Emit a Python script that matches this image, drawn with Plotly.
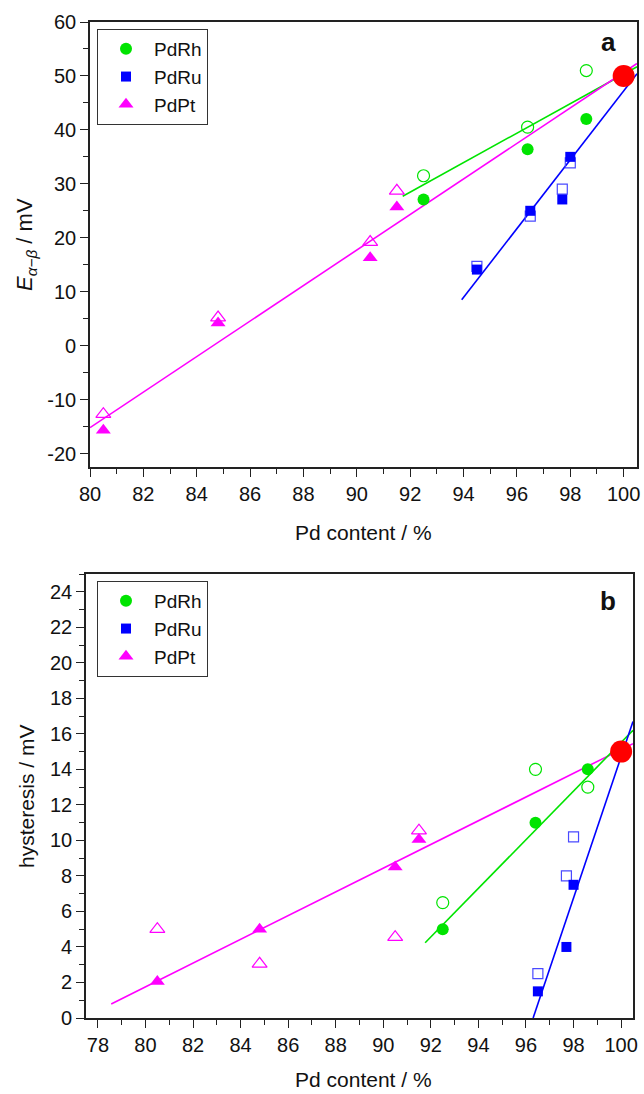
import plotly.graph_objects as go

W, H = 644, 1094
GREEN = "#00e400"
BLUE = "#0000ff"
MAG = "#ff00ff"
RED = "#ff0000"

# ---------------- panel a: E_alpha-beta ----------------
a_rh_x = [92.5, 96.4, 98.6]
a_rh_fill = [27.1, 36.4, 42.0]
a_rh_open = [31.5, 40.5, 51.0]
a_ru_x = [94.5, 96.5, 97.7, 98.0]
a_ru_fill = [14.1, 25.0, 27.1, 35.0]
a_ru_open = [14.7, 24.0, 29.0, 33.9]
a_pt_x = [80.5, 84.8, 90.5, 91.5]
a_pt_fill = [-15.7, 4.2, 16.3, 25.7]
a_pt_open = [-12.7, 5.2, 19.2, 28.7]
a_pd_x = [100.0]
a_pd_y = [50.0]
# fit lines (endpoints)
a_fit_rh_x = [91.72, 100.5]
a_fit_rh_y = [27.7, 51.7]
a_fit_ru_x = [93.93, 100.5]
a_fit_ru_y = [8.5, 50.4]
a_fit_pt_x = [80.0, 100.5]
a_fit_pt_y = [-15.2, 52.3]
a_y_ticks = [-20, -10, 0, 10, 20, 30, 40, 50, 60]
a_y_labels = ["-20", "-10", "0", "10", "20", "30", "40", "50", "60"]

# ---------------- panel b: hysteresis ----------------
b_rh_x = [92.5, 96.4, 98.6]
b_rh_fill = [5.0, 11.0, 14.0]
b_rh_open = [6.5, 14.0, 13.0]
b_ru_x = [96.5, 97.7, 98.0]
b_ru_fill = [1.5, 4.0, 7.5]
b_ru_open = [2.5, 8.0, 10.2]
b_pt_x = [80.5, 84.8, 90.5, 91.5]
b_pt_fill = [2.05, 5.0, 8.5, 10.05]
b_pt_open = [5.0, 3.05, 4.55, 10.55]
b_pd_x = [100.0]
b_pd_y = [15.0]
b_fit_rh_x = [91.76, 100.5]
b_fit_rh_y = [4.24, 16.2]
b_fit_ru_x = [96.3, 100.5]
b_fit_ru_y = [0.0, 16.7]
b_fit_pt_x = [78.56, 100.5]
b_fit_pt_y = [0.79, 15.45]

FONT = "Liberation Sans, Arial, sans-serif"

fig = go.Figure()


def add_panel(xa, ya, leg, rh_x, rh_f, rh_o, ru_x, ru_f, ru_o, pt_x, pt_f, pt_o,
              pd_x, pd_y, fits):
    for fx, fy, col in fits:
        fig.add_trace(go.Scatter(x=fx, y=fy, mode="lines", line=dict(color=col, width=1.6),
                                 showlegend=False, xaxis=xa, yaxis=ya, hoverinfo="skip"))
    # open markers
    fig.add_trace(go.Scatter(x=rh_x, y=rh_o, mode="markers", showlegend=False, xaxis=xa, yaxis=ya,
                             marker=dict(symbol="circle-open", size=12, color=GREEN, line=dict(width=1.2))))
    fig.add_trace(go.Scatter(x=ru_x, y=ru_o, mode="markers", showlegend=False, xaxis=xa, yaxis=ya,
                             marker=dict(symbol="square-open", size=10, color="#4a4aff", line=dict(width=1.2))))
    fig.add_trace(go.Scatter(x=pt_x, y=pt_o, mode="markers", showlegend=False, xaxis=xa, yaxis=ya,
                             marker=dict(symbol="triangle-up-open", size=13, color=MAG, line=dict(width=1.2))))
    # filled markers
    fig.add_trace(go.Scatter(x=rh_x, y=rh_f, mode="markers", name="PdRh", legend=leg, xaxis=xa, yaxis=ya,
                             marker=dict(symbol="circle", size=12, color=GREEN)))
    fig.add_trace(go.Scatter(x=ru_x, y=ru_f, mode="markers", name="PdRu", legend=leg, xaxis=xa, yaxis=ya,
                             marker=dict(symbol="square", size=10, color=BLUE)))
    fig.add_trace(go.Scatter(x=pt_x, y=pt_f, mode="markers", name="PdPt", legend=leg, xaxis=xa, yaxis=ya,
                             marker=dict(symbol="triangle-up", size=13, color=MAG)))
    fig.add_trace(go.Scatter(x=pd_x, y=pd_y, mode="markers", showlegend=False, xaxis=xa, yaxis=ya,
                             marker=dict(symbol="circle", size=22, color=RED)))


add_panel("x", "y", "legend", a_rh_x, a_rh_fill, a_rh_open, a_ru_x, a_ru_fill, a_ru_open,
          a_pt_x, a_pt_fill, a_pt_open, a_pd_x, a_pd_y,
          [(a_fit_rh_x, a_fit_rh_y, GREEN), (a_fit_pt_x, a_fit_pt_y, MAG), (a_fit_ru_x, a_fit_ru_y, BLUE)])
add_panel("x2", "y2", "legend2", b_rh_x, b_rh_fill, b_rh_open, b_ru_x, b_ru_fill, b_ru_open,
          b_pt_x, b_pt_fill, b_pt_open, b_pd_x, b_pd_y,
          [(b_fit_pt_x, b_fit_pt_y, MAG), (b_fit_rh_x, b_fit_rh_y, GREEN), (b_fit_ru_x, b_fit_ru_y, BLUE)])

axis_common = dict(showline=True, linecolor="#222", linewidth=1.6, mirror=True,
                   ticks="outside", ticklen=8, tickwidth=1.4, tickcolor="#222",
                   showgrid=False, zeroline=False, automargin=False,
                   tickfont=dict(family=FONT, size=20, color="#111"))


def ax(**kw):
    d = dict(axis_common)
    d.update(kw)
    return d


legend_common = dict(bordercolor="#333", borderwidth=1, bgcolor="rgba(255,255,255,0)",
                     font=dict(family=FONT, size=19, color="#111"),
                     xanchor="left", yanchor="top", itemwidth=46, tracegroupgap=0)

fig.update_layout(
    width=W, height=H, autosize=False,
    margin=dict(l=0, r=0, t=0, b=0, autoexpand=False),
    paper_bgcolor="white", plot_bgcolor="white",
    xaxis=ax(domain=[90 / W, 637 / W], range=[80, 100.5], dtick=2, tick0=80,
             minor=dict(ticks="outside", ticklen=5, dtick=1, tickcolor="#222", tickwidth=1.2),
             anchor="y"),
    yaxis=ax(domain=[1 - 467 / H, 1 - 22 / H], range=[-22.5, 60],
             tickmode="array", tickvals=a_y_ticks, ticktext=a_y_labels,
             minor=dict(ticks="outside", ticklen=5, dtick=5, tick0=0, tickcolor="#222", tickwidth=1.2),
             anchor="x"),
    xaxis2=ax(domain=[86 / W, 633 / W], range=[77.5, 100.5], dtick=2, tick0=78,
              minor=dict(ticks="outside", ticklen=5, dtick=1, tickcolor="#222", tickwidth=1.2),
              anchor="y2"),
    yaxis2=ax(domain=[1 - 1018 / H, 1 - 574 / H], range=[0, 25], dtick=2, tick0=0,
              minor=dict(ticks="outside", ticklen=5, dtick=1, tickcolor="#222", tickwidth=1.2),
              anchor="x2"),
    legend=dict(legend_common, x=97 / W, y=1 - 29 / H),
    legend2=dict(legend_common, x=97 / W, y=1 - 581 / H),
    annotations=[
        dict(text="<b>a</b>", x=608 / W, y=1 - 42 / H, xref="paper", yref="paper",
             xanchor="center", yanchor="middle",
             showarrow=False, font=dict(family=FONT, size=26, color="#111")),
        dict(text="<b>b</b>", x=608 / W, y=1 - 601 / H, xref="paper", yref="paper",
             xanchor="center", yanchor="middle",
             showarrow=False, font=dict(family=FONT, size=26, color="#111")),
        dict(text="Pd content / %", x=363 / W, y=1 - 532 / H, xref="paper", yref="paper",
             xanchor="center", yanchor="middle",
             showarrow=False, font=dict(family=FONT, size=21, color="#111")),
        dict(text="Pd content / %", x=363 / W, y=1 - 1079 / H, xref="paper", yref="paper",
             xanchor="center", yanchor="middle",
             showarrow=False, font=dict(family=FONT, size=21, color="#111")),
        dict(text="<i>E</i><sub><i>α−β</i></sub> / mV", x=26 / W, y=1 - 245 / H,
             xref="paper", yref="paper", textangle=-90, xanchor="center", yanchor="middle",
             showarrow=False, font=dict(family=FONT, size=22, color="#111")),
        dict(text="hysteresis / mV", x=26 / W, y=1 - 796 / H, xref="paper", yref="paper",
             textangle=-90, xanchor="center", yanchor="middle",
             showarrow=False, font=dict(family=FONT, size=21, color="#111")),
    ],
)

fig.write_html("out.html")
